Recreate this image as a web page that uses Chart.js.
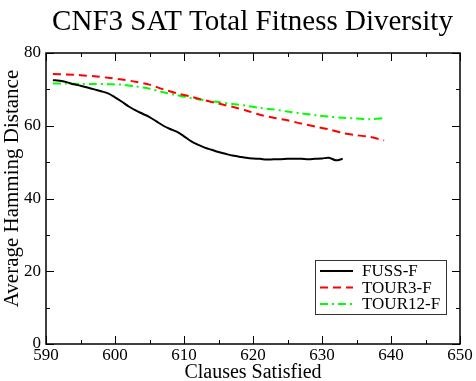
<!DOCTYPE html>
<html>
<head>
<meta charset="utf-8">
<script src="https://cdn.jsdelivr.net/npm/chart.js@4"></script>
<style>
  html, body { margin: 0; padding: 0; background: #fff; }
  #wrap { width: 476px; height: 381px; }
</style>
</head>
<body>
<div id="wrap"><canvas id="fitChart" width="476" height="381"></canvas></div>
<script>
// data
const fussX = [591, 592, 593, 594, 595, 596, 597, 598, 599, 600, 601, 602, 603, 604, 605, 606, 607, 608, 609, 610,
               611, 612, 613, 614, 615, 616, 617, 618, 619, 620, 621, 622, 623, 624, 625, 626, 627, 628, 629, 630,
               631, 632, 633];
const fussY = [72.5, 72.4, 72.0, 71.4, 71.0, 70.5, 70.0, 69.5, 68.9, 67.8, 66.6, 65.3, 64.2, 63.3, 62.4, 61.2, 60.0, 59.1, 58.3, 57.1,
               55.8, 54.8, 54.0, 53.4, 52.8, 52.3, 51.8, 51.5, 51.2, 51.0, 50.9, 50.7, 50.8, 50.8, 50.9, 50.9, 50.9, 50.8, 50.9, 51.0,
               51.2, 50.5, 50.9];

const tour3X = [591, 593, 595, 597, 599, 601, 603, 605, 607, 609, 611, 613, 615, 617, 619, 621, 623, 625, 627, 629,
                631, 633, 635, 637, 639];
const tour3Y = [74.2, 74.1, 73.9, 73.6, 73.2, 72.7, 72.1, 71.3, 70.0, 68.9, 68.0, 67.0, 66.1, 65.2, 64.2, 63.0, 62.2, 61.5, 60.6, 59.8,
                59.0, 58.0, 57.4, 56.9, 56.0];

const tour12X = [591, 593, 595, 597, 599, 601, 603, 605, 607, 609, 611, 613, 615, 617, 619, 621, 623, 625, 627, 629,
                 631, 633, 635, 637, 639];
const tour12Y = [71.6, 71.6, 71.5, 71.5, 71.4, 71.3, 70.8, 70.2, 69.2, 68.4, 67.6, 67.0, 66.5, 66.0, 65.5, 64.9, 64.5, 63.9, 63.4, 62.9,
                 62.5, 62.2, 62.0, 61.8, 62.1];

const seriesNames = ['FUSS-F', 'TOUR3-F', 'TOUR12-F'];
const xMin = 590, xMax = 650, xStep = 10, xMinor = 5;
const yMin = 0, yMax = 80, yStep = 20, yMinor = 10;

const titleText = 'CNF3 SAT Total Fitness Diversity';
const xTitle = 'Clauses Satisfied';
const yTitle = 'Average Hamming Distance';
const serif = '"Liberation Serif", "DejaVu Serif", serif';

function toPoints(xs, ys) {
    return xs.map(function(x, i) { return { x: x, y: ys[i] }; });
}

// frame, inward ticks on all four sides, titles and boxed legend
const framePlugin = {
    id: 'frame',
    afterDatasetsDraw(chart) {
        const ctx = chart.ctx;
        const a = chart.chartArea;
        const xs = chart.scales.x, ys = chart.scales.y;
        ctx.save();
        ctx.strokeStyle = '#000';
        ctx.lineWidth = 1.5;
        ctx.strokeRect(a.left, a.top, a.right - a.left, a.bottom - a.top);

        ctx.lineWidth = 1;
        ctx.beginPath();
        for (let v = xMin; v <= xMax; v += xMinor) {
            const len = (v - xMin) % xStep === 0 ? 8 : 4;
            const px = Math.round(xs.getPixelForValue(v)) + 0.5;
            ctx.moveTo(px, a.bottom); ctx.lineTo(px, a.bottom - len);
            ctx.moveTo(px, a.top); ctx.lineTo(px, a.top + len);
        }
        for (let v = yMin; v <= yMax; v += yMinor) {
            const len = (v - yMin) % yStep === 0 ? 8 : 4;
            const py = Math.round(ys.getPixelForValue(v)) + 0.5;
            ctx.moveTo(a.left, py); ctx.lineTo(a.left + len, py);
            ctx.moveTo(a.right, py); ctx.lineTo(a.right - len, py);
        }
        ctx.stroke();

        // titles
        ctx.fillStyle = '#000';
        ctx.textAlign = 'center';
        ctx.textBaseline = 'alphabetic';
        ctx.font = '29px ' + serif;
        ctx.fillText(titleText, 252.5, 30);
        ctx.font = '20px ' + serif;
        ctx.fillText(xTitle, 253, 378);
        ctx.save();
        ctx.translate(18, 188.5);
        ctx.rotate(-Math.PI / 2);
        ctx.font = '21px ' + serif;
        ctx.fillText(yTitle, 0, 0);
        ctx.restore();

        // legend
        const bx = 315, by = 260, bw = 131, bh = 54;
        ctx.fillStyle = '#fff';
        ctx.fillRect(bx, by, bw, bh);
        ctx.strokeStyle = '#333';
        ctx.lineWidth = 1;
        ctx.strokeRect(bx + 0.5, by + 0.5, bw, bh);
        ctx.font = '17px ' + serif;
        ctx.textAlign = 'left';
        ctx.textBaseline = 'middle';
        chart.data.datasets.forEach(function(ds, i) {
            const ly = by + 11 + i * 16.5;
            ctx.strokeStyle = ds.borderColor;
            ctx.lineWidth = 2;
            ctx.setLineDash(ds.borderDash || []);
            ctx.beginPath();
            ctx.moveTo(bx + 5, ly); ctx.lineTo(bx + 38, ly);
            ctx.stroke();
            ctx.setLineDash([]);
            ctx.fillStyle = '#000';
            ctx.fillText(ds.label, bx + 47, ly + 1);
        });
        ctx.restore();
    }
};

const ctx = document.getElementById('fitChart').getContext('2d');
const fitChart = new Chart(ctx, {
    type: 'line',
    data: {
        datasets: [{
            label: seriesNames[0],
            data: toPoints(fussX, fussY),
            borderColor: '#000000',
            borderWidth: 2
        }, {
            label: seriesNames[1],
            data: toPoints(tour3X, tour3Y),
            borderColor: '#ff0000',
            borderWidth: 2,
            borderDash: [8, 5]
        }, {
            label: seriesNames[2],
            data: toPoints(tour12X, tour12Y),
            borderColor: '#00ff00',
            borderWidth: 2,
            borderDash: [8, 4, 2, 4]
        }]
    },
    options: {
        responsive: false,
        animation: false,
        devicePixelRatio: 1,
        layout: { padding: { top: 53, right: 16, left: 0, bottom: 0 } },
        elements: {
            point: { radius: 0 },
            line: { tension: 0.3, fill: false }
        },
        plugins: {
            legend: { display: false },
            title: { display: false },
            tooltip: { enabled: false }
        },
        scales: {
            x: {
                type: 'linear',
                min: xMin, max: xMax,
                grid: { display: false, drawTicks: false },
                border: { display: false },
                ticks: {
                    stepSize: xStep,
                    padding: 1,
                    color: '#000',
                    font: { family: serif, size: 17 }
                },
                afterFit(scale) { scale.height = 37; }
            },
            y: {
                min: yMin, max: yMax,
                grid: { display: false, drawTicks: false },
                border: { display: false },
                ticks: {
                    stepSize: yStep,
                    padding: 5,
                    color: '#000',
                    font: { family: serif, size: 17 }
                },
                afterFit(scale) { scale.width = 46; }
            }
        }
    },
    plugins: [framePlugin]
});
</script>
</body>
</html>
